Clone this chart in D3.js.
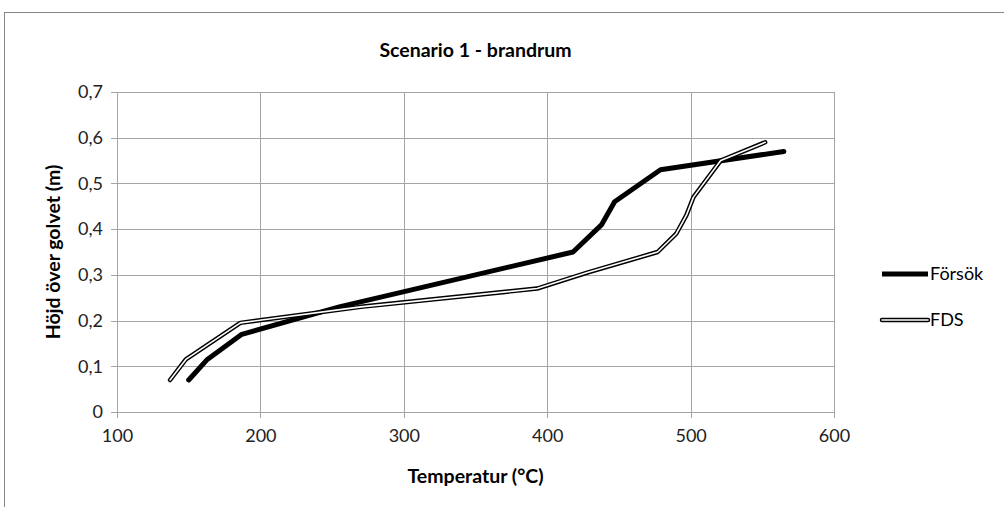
<!DOCTYPE html>
<html>
<head>
<meta charset="utf-8">
<script src="https://cdn.jsdelivr.net/npm/d3@7"></script>
<style>
  body { margin: 0; background: #fff; }
  svg { display: block; font-family: Lato, "Open Sans", sans-serif; }
</style>
</head>
<body>
<div id="chart"></div>
<script>
"use strict";

// values
var forsokTemp   = [150, 163, 187, 255, 418, 438, 447, 479, 565];
var forsokHeight = [0.07, 0.115, 0.17, 0.23, 0.35, 0.41, 0.46, 0.53, 0.57];
var fdsTemp      = [137, 148, 186, 270, 393, 428, 477, 490, 497, 502, 521, 552];
var fdsHeight    = [0.07, 0.115, 0.195, 0.23, 0.27, 0.305, 0.35, 0.39, 0.43, 0.47, 0.55, 0.59];
var xTicks = [100, 200, 300, 400, 500, 600];
var yTicks = [0, 0.1, 0.2, 0.3, 0.4, 0.5, 0.6, 0.7];
var seriesNames = ["Försök", "FDS"];

var width = 1004, height = 507;
var margin = { left: 117, right: 170, top: 92, bottom: 95 };
var gridColor = "#a5a5a5";

var svg = d3.select("#chart").append("svg")
    .attr("width", width)
    .attr("height", height);

// outer chart frame (cut off at the right and bottom edge)
svg.append("rect")
    .attr("x", 4.5).attr("y", 12.5)
    .attr("width", 1100).attr("height", 600)
    .attr("fill", "none")
    .attr("stroke", "#868686")
    .attr("stroke-width", 1);

var x = d3.scaleLinear().domain([100, 600]).range([margin.left, width - margin.right]);
var y = d3.scaleLinear().domain([0, 0.7]).range([height - margin.bottom, margin.top]);

var comma = function (d) { return d === 0 ? "0" : d3.format(".1f")(d).replace(".", ","); };

// grid
var grid = svg.append("g").attr("class", "grid");
grid.selectAll("line.h")
    .data(yTicks)
    .enter().append("line")
    .attr("class", "h")
    .attr("x1", x(100) - 6).attr("x2", x(600))
    .attr("y1", function (d) { return Math.round(y(d)) + 0.5; })
    .attr("y2", function (d) { return Math.round(y(d)) + 0.5; })
    .attr("stroke", gridColor);
grid.selectAll("line.v")
    .data(xTicks)
    .enter().append("line")
    .attr("class", "v")
    .attr("x1", function (d) { return Math.round(x(d)) + 0.5; })
    .attr("x2", function (d) { return Math.round(x(d)) + 0.5; })
    .attr("y1", y(0.7)).attr("y2", y(0) + 6)
    .attr("stroke", gridColor);

// axes
var xAxis = svg.append("g")
    .attr("transform", "translate(0," + (y(0) + 8) + ")")
    .call(d3.axisBottom(x).tickValues(xTicks).tickSize(0).tickPadding(9));
var yAxis = svg.append("g")
    .attr("transform", "translate(" + (x(100) - 10) + ",0)")
    .call(d3.axisLeft(y).tickValues(yTicks).tickFormat(comma).tickSize(0).tickPadding(4));
[xAxis, yAxis].forEach(function (a) {
    a.select(".domain").remove();
    a.selectAll("text")
        .attr("font-family", "Lato, sans-serif")
        .attr("font-size", 18)
        .attr("fill", "#222");
});

// series
var line = d3.line()
    .x(function (d) { return x(d[0]); })
    .y(function (d) { return y(d[1]); });

var forsok = d3.zip(forsokTemp, forsokHeight);
var fds = d3.zip(fdsTemp, fdsHeight);

svg.append("path")
    .datum(forsok)
    .attr("d", line)
    .attr("fill", "none")
    .attr("stroke", "#000")
    .attr("stroke-width", 5)
    .attr("stroke-linecap", "round")
    .attr("stroke-linejoin", "round");

svg.append("path")
    .datum(fds)
    .attr("d", line)
    .attr("fill", "none")
    .attr("stroke", "#000")
    .attr("stroke-width", 4.5)
    .attr("stroke-linecap", "round")
    .attr("stroke-linejoin", "round");
svg.append("path")
    .datum(fds)
    .attr("d", line)
    .attr("fill", "none")
    .attr("stroke", "#fff")
    .attr("stroke-width", 1.6)
    .attr("stroke-linecap", "round")
    .attr("stroke-linejoin", "round");

// titles
svg.append("text")
    .attr("x", (x(100) + x(600)) / 2)
    .attr("y", 57)
    .attr("text-anchor", "middle")
    .attr("font-size", 19.5)
    .attr("font-weight", "bold")
    .text("Scenario 1 - brandrum");

svg.append("text")
    .attr("x", (x(100) + x(600)) / 2)
    .attr("y", 483)
    .attr("text-anchor", "middle")
    .attr("font-size", 19.5)
    .attr("font-weight", "bold")
    .text("Temperatur (°C)");

svg.append("text")
    .attr("transform", "translate(60," + ((y(0) + y(0.7)) / 2) + ") rotate(-90)")
    .attr("text-anchor", "middle")
    .attr("font-size", 19.5)
    .attr("font-weight", "bold")
    .text("Höjd över golvet (m)");

// legend
var legend = svg.append("g").attr("transform", "translate(882,0)");
var legendY = [274, 320];
legend.selectAll("g.item")
    .data(seriesNames)
    .enter().append("g")
    .attr("class", "item")
    .each(function (name, i) {
        var g = d3.select(this);
        if (i === 0) {
            g.append("line")
                .attr("x1", 0).attr("x2", 46)
                .attr("y1", legendY[i]).attr("y2", legendY[i])
                .attr("stroke", "#000").attr("stroke-width", 5);
        } else {
            g.append("line")
                .attr("x1", 0).attr("x2", 46)
                .attr("y1", legendY[i]).attr("y2", legendY[i])
                .attr("stroke", "#000").attr("stroke-width", 4.5)
                .attr("stroke-linecap", "round");
            g.append("line")
                .attr("x1", 0).attr("x2", 46)
                .attr("y1", legendY[i]).attr("y2", legendY[i])
                .attr("stroke", "#fff").attr("stroke-width", 1.6)
                .attr("stroke-linecap", "round");
        }
        g.append("text")
            .attr("x", 48)
            .attr("y", legendY[i])
            .attr("dy", "0.35em")
            .attr("font-size", 18)
            .text(name);
    });
</script>
</body>
</html>
